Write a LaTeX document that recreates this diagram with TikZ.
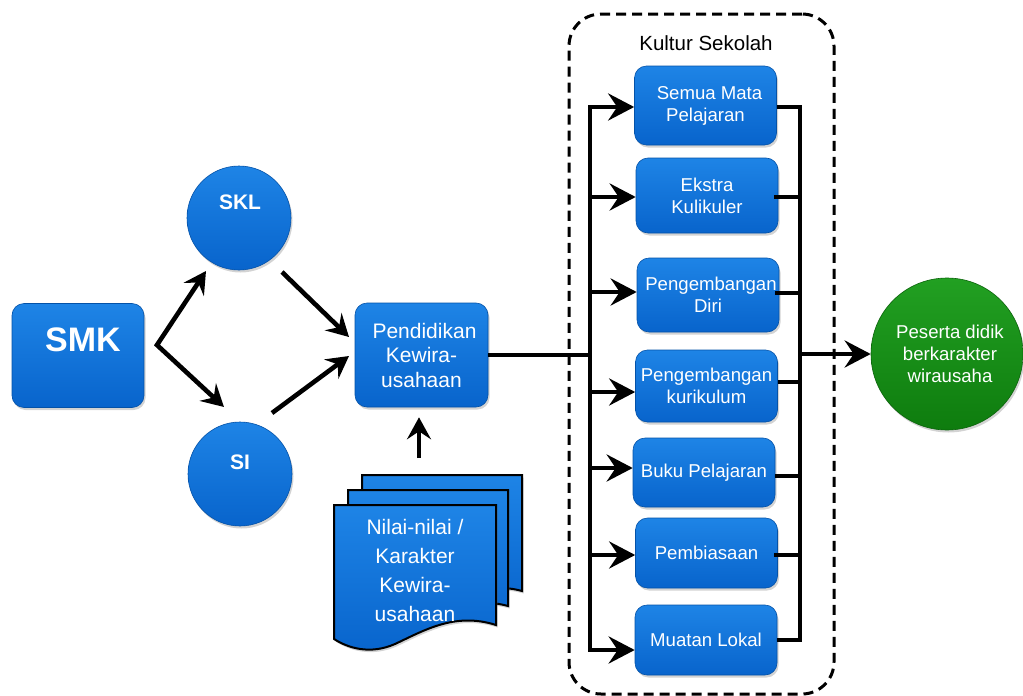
\documentclass[tikz,border=0pt]{standalone}
\usepackage{fontspec}
\setmainfont{Liberation Sans}
\usetikzlibrary{arrows.meta,shadows,calc}
\definecolor{btop}{RGB}{30,132,230}
\definecolor{bbot}{RGB}{8,100,204}
\definecolor{bedge}{RGB}{4,82,168}
\definecolor{gtop}{RGB}{34,160,34}
\definecolor{gbot}{RGB}{14,124,14}
\tikzset{
  shade/.style={drop shadow={shadow xshift=1.5pt,shadow yshift=-2.5pt,opacity=0.35}},
  bluebox/.style={rectangle,rounded corners=12pt,top color=btop,bottom color=bbot,draw=bedge,line width=0.6pt,shade,text=white,align=center,inner sep=0pt},
  bluecirc/.style={circle,top color=btop,bottom color=bbot,draw=bedge,line width=0.6pt,shade,inner sep=0pt,minimum size=104pt},
  sidebox/.style={bluebox,font=\fontsize{18.6}{22}\selectfont,minimum width=142pt},
  bigtext/.style={font=\fontsize{21}{24.5}\selectfont,text=white,align=center},
  boldtext/.style={font=\bfseries\fontsize{21}{24}\selectfont,text=white},
  tip/.tip={Stealth[length=22pt,width=24pt,inset=8pt]},
  stip/.tip={Stealth[length=26pt,width=27pt,inset=9pt]},
  arr/.style={line width=4.6pt,-tip},
  arrs/.style={line width=4.6pt,tip-tip,line join=miter},
  sarr/.style={line width=4.6pt,-stip},
  conn/.style={line width=4.6pt},
  docshape/.style={top color=btop,bottom color=bbot,draw=black,line width=2pt,shade},
}
\begin{document}
\begin{tikzpicture}[x=1pt,y=-1pt]
\useasboundingbox (0,0) rectangle (1023,696);

% container
\node[draw,dash pattern=on 10pt off 6pt,line width=3pt,rounded corners=32pt,
      minimum width=265pt,minimum height=680pt,inner sep=0pt] (kultur) at (701.5,354) {};
\node[font=\fontsize{20.5}{24}\selectfont] (kultlbl) at (706,43) {Kultur Sekolah};

% left part
\node[bluebox,minimum width=132pt,minimum height=104pt] (smk) at (78,355.5) {};
\node[font=\bfseries\fontsize{34}{38}\selectfont,text=white] (smkt) at (83,340) {SMK};
\node[bluecirc] (skl) at (239,218) {};
\node[boldtext] (sklt) at (240,202) {SKL};
\node[bluecirc] (si) at (240,474) {};
\node[boldtext] (sit) at (240,462) {SI};
\node[bluebox,bigtext,minimum width=133pt,minimum height=104pt] (pend) at (421.5,355)
  {\hspace*{6pt}Pendidikan\\Kewira-\\usahaan};

% documents
\path[docshape] (362,475) -- (522,475) -- (522,591)
  .. controls (490,582) and (460,595) .. (430,605) -- (362,612) -- cycle;
\path[docshape] (348,490) -- (508,490) -- (508,606)
  .. controls (476,597) and (446,610) .. (416,620) -- (348,627) -- cycle;
\path[docshape] (334,505) -- (496,505) -- (496,625)
  .. controls (455,612) and (425,630) .. (395,644)
  .. controls (370,655) and (348,648) .. (334,639) -- cycle;
\node[font=\fontsize{21}{29}\selectfont,text=white,align=center] (doct) at (415,570)
  {Nilai-nilai /\\Karakter\\Kewira-\\usahaan};

\coordinate (fork) at (157,345);
\coordinate (sklTip) at (206,271);
\coordinate (siTip) at (224,407);
\coordinate (sklOut) at (282,272);
\coordinate (pendIn1) at (349,337);
\coordinate (siOut) at (272,413);
\coordinate (pendIn2) at (349,356);
\coordinate (docTop) at (419,458);
\draw[arrs] (sklTip) -- (fork) -- (siTip);
\draw[arr] (sklOut) -- (pendIn1);
\draw[arr] (siOut) -- (pendIn2);
\draw[arr,shorten >=10pt] (docTop) -- (docTop |- pend.south);

% right boxes
\node[sidebox,minimum height=79pt] (semua) at (705.5,105.5) {\hspace*{8pt}Semua Mata\\Pelajaran};
\node[sidebox,minimum height=75pt] (ekstra) at (707,195.5) {Ekstra\\Kulikuler};
\node[sidebox,minimum height=74pt] (diri) at (708,295) {\hspace*{6pt}Pengembangan\\Diri};
\node[sidebox,minimum height=72pt] (kurik) at (706.5,386) {Pengembangan\\kurikulum};
\node[sidebox,minimum height=69pt] (buku) at (704,472.5) {Buku Pelajaran};
\node[sidebox,minimum height=70pt] (pembi) at (706.5,553) {Pembiasaan};
\node[sidebox,minimum height=70pt] (muatan) at (706,640) {Muatan Lokal};

\node[circle,top color=gtop,bottom color=gbot,draw=gbot!80!black,line width=0.6pt,shade,
      minimum size=152pt,inner sep=0pt,text=white,align=center,
      font=\fontsize{18.6}{22}\selectfont] (green) at (947,354)
  {\hspace*{6pt}Peserta didik\\\hspace*{6pt}berkarakter\\\hspace*{6pt}wirausaha};

% left spine
\coordinate (sL1) at (590,107);
\coordinate (sL7) at (590,650);
\draw[sarr] (sL7) -- (sL1) -- (semua.west |- sL1);
\draw[sarr] (sL1) -- (sL7) -- (muatan.west |- sL7);
\draw[sarr] (590,197) -- (ekstra.west |- 0,197);
\draw[sarr] (590,292) -- (diri.west |- 0,292);
\draw[sarr] (590,392) -- (kurik.west |- 0,392);
\draw[sarr] (590,468) -- (buku.west |- 0,468);
\draw[sarr] (590,555) -- (pembi.west |- 0,555);
\draw[conn] (pend.east) -- (pend.east -| sL1);

% right spine
\coordinate (sR1) at (800,107);
\coordinate (sR7) at (800,640);
\draw[conn] (semua.east |- sR1) -- (sR1) -- (sR7) -- (muatan.east |- sR7);
\draw[conn] ([xshift=-4pt]ekstra.east |- 0,197) -- (800,197);
\draw[conn] ([xshift=-4pt]diri.east |- 0,293) -- (800,293);
\draw[conn] (kurik.east |- 0,382) -- (800,382);
\draw[conn] (buku.east |- 0,476) -- (800,476);
\draw[conn] ([xshift=-4pt]pembi.east |- 0,555) -- (800,555);
\draw[sarr] (green.west -| sR1) -- (green.west);
\end{tikzpicture}
\end{document}
